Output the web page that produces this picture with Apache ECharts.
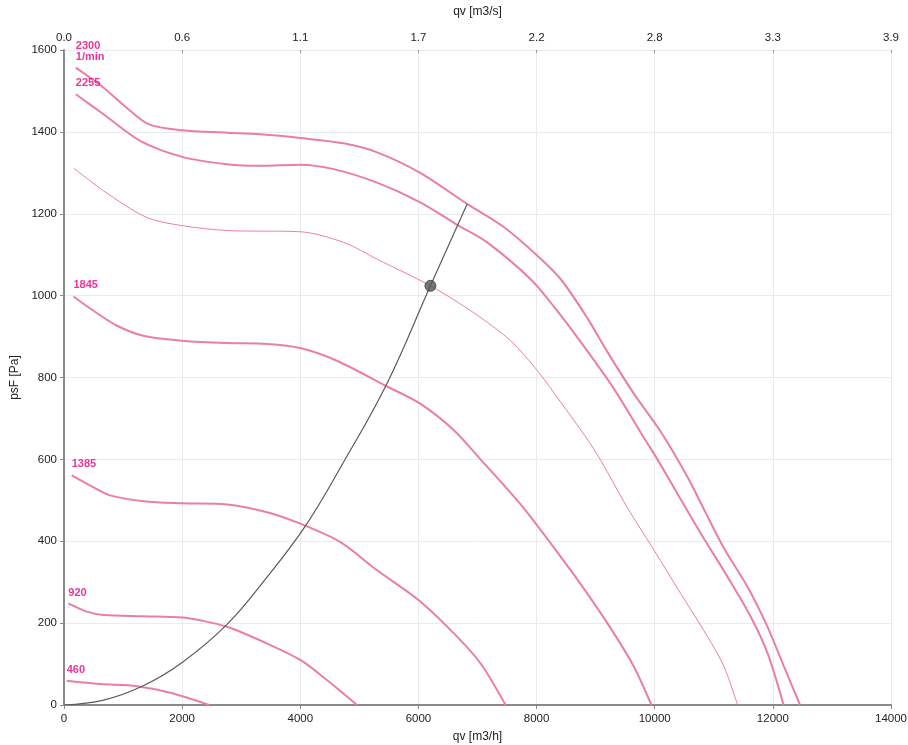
<!DOCTYPE html>
<html>
<head>
<meta charset="utf-8">
<script src="https://cdn.jsdelivr.net/npm/echarts@6/dist/echarts.min.js"></script>
<style>
html,body{margin:0;padding:0;background:#fff;}
#chart{width:908px;height:745px;}
</style>
</head>
<body>
<div id="chart"></div>
<script>
// ---- data (qv [m3/h], psF [Pa]) ----
var xTicks = [0, 2000, 4000, 6000, 8000, 10000, 12000, 14000];
var topTickLabels = ['0.0', '0.6', '1.1', '1.7', '2.2', '2.8', '3.3', '3.9'];
var yTicks = [0, 200, 400, 600, 800, 1000, 1200, 1400, 1600];

var curve2300 = [[200,1557],[670,1508],[1060,1459],[1430,1419],[2000,1404],[2760,1398],[3320,1394],[4000,1385],[4735,1372],[5300,1350],[6030,1300],[6825,1224],[7450,1167],[8010,1098],[8410,1040],[8860,945],[9200,862],[9650,760],[10100,668],[10555,557],[10840,476],[11180,381],[11570,289],[11910,191],[12190,93],[12460,0]];
var curve2255 = [[200,1492],[670,1443],[1290,1378],[2000,1339],[2760,1321],[3320,1317],[4000,1320],[4565,1309],[5300,1276],[6030,1228],[6656,1173],[7164,1130],[7900,1040],[8294,973],[8690,898],[9200,796],[9400,752],[9820,652],[10046,600],[10385,516],[10780,419],[11233,313],[11628,215],[11911,126],[12182,0]];
var curveWork = [[170,1311],[670,1256],[1400,1191],[2000,1171],[2760,1159],[4000,1156],[4735,1130],[5300,1089],[6203,1024],[6938,958],[7560,890],[8012,817],[8407,740],[8831,655],[9085,598],[9537,482],[9989,378],[10441,272],[10894,167],[11176,93],[11402,0]];
var curve1845 = [[160,998],[500,963],[890,927],[1340,902],[2000,890],[2760,884],[3440,882],[4000,872],[4620,841],[5470,778],[6030,736],[6600,671],[7050,600],[7730,490],[8410,362],[8860,272],[9310,175],[9650,93],[9945,0]];
var curve1385 = [[130,561],[384,541],[780,512],[1344,498],[2000,493],[2760,490],[3440,471],[4000,443],[4680,398],[5300,329],[6006,256],[6600,175],[7050,102],[7475,0]];
var curve920 = [[73,248],[384,228],[667,220],[1344,217],[2000,214],[2305,207],[2760,191],[3440,150],[4000,110],[4450,61],[4960,0]];
var curve460 = [[45,59],[610,51],[1230,46],[1800,30],[2460,0]];
var systemCurve = [[0,0],[670,12],[1340,47],[2000,104],[2760,197],[3440,313],[4085,437],[4700,585],[5470,786],[6203,1024],[6825,1224]];
var operatingPoint = [[6203,1024]];

var speedNames = ['2300\n1/min', '2255', '', '1845', '1385', '920', '460'];
var speedCurves = [curve2300, curve2255, curveWork, curve1845, curve1385, curve920, curve460];
var speedWidths = [2, 2, 1, 2, 2, 2, 2];

var pink = '#ea7fa4';
var labelPink = '#e6007e';
var fontFam = '"Liberation Sans", Arial, Helvetica, sans-serif';

var series = speedCurves.map(function (c, i) {
  return {
    type: 'line',
    data: c,
    smooth: 0.3,
    showSymbol: false,
    symbol: 'none',
    lineStyle: { color: pink, width: speedWidths[i] },
    silent: true,
    z: 3
  };
});

// speed labels placed at the start of each curve
var labelData = [];
speedCurves.forEach(function (c, i) {
  if (speedNames[i]) labelData.push({ value: c[0], name: speedNames[i] });
});
series.push({
  type: 'scatter',
  data: labelData,
  symbol: 'circle',
  symbolSize: 1,
  itemStyle: { color: 'rgba(0,0,0,0)' },
  label: {
    show: true,
    formatter: function (p) { return p.name; },
    position: 'top',
    align: 'left',
    distance: 5,
    offset: [0, 0],
    color: labelPink,
    fontSize: 11,
    fontWeight: 'bold',
    lineHeight: 11,
    fontFamily: fontFam
  },
  silent: true,
  z: 6
});

series.push({
  type: 'line',
  data: systemCurve,
  smooth: 0.4,
  symbol: 'none',
  lineStyle: { color: '#5a5a5a', width: 1.2 },
  silent: true,
  z: 4
});
series.push({
  type: 'scatter',
  data: operatingPoint,
  symbol: 'circle',
  symbolSize: 11,
  itemStyle: { color: '#555558', borderColor: '#3a3a3a', borderWidth: 1 },
  z: 5
});

function plain(v) { return String(v); }

var chart = echarts.init(document.getElementById('chart'), null, { renderer: 'canvas' });
chart.setOption({
  animation: false,
  backgroundColor: '#ffffff',
  textStyle: { fontFamily: fontFam },
  grid: { left: 64, right: 17, top: 50, bottom: 40, containLabel: false, outerBoundsMode: 'none' },
  xAxis: [
    {
      type: 'value', position: 'bottom',
      min: xTicks[0], max: xTicks[xTicks.length - 1], interval: xTicks[1] - xTicks[0],
      name: 'qv [m3/h]', nameLocation: 'middle', nameGap: 26,
      nameTextStyle: { color: '#222', fontSize: 12, fontFamily: fontFam },
      axisLine: { show: true, lineStyle: { color: '#8a8a8a', width: 2 } },
      axisTick: { show: true, length: 4, lineStyle: { color: '#8a8a8a' } },
      axisLabel: { color: '#222', fontSize: 11.5, margin: 8, fontFamily: fontFam, formatter: plain },
      splitLine: { show: true, lineStyle: { color: '#e8ecf1', width: 1 } }
    },
    {
      type: 'value', position: 'top',
      min: xTicks[0], max: xTicks[xTicks.length - 1], interval: xTicks[1] - xTicks[0],
      name: 'qv [m3/s]', nameLocation: 'middle', nameGap: 32,
      nameTextStyle: { color: '#222', fontSize: 12, fontFamily: fontFam },
      axisLine: { show: false },
      axisTick: { show: true, inside: true, length: 3, lineStyle: { color: '#999' } },
      axisLabel: {
        color: '#222', fontSize: 11.5, margin: 6, fontFamily: fontFam,
        formatter: function (v) { var i = xTicks.indexOf(v); return i >= 0 ? topTickLabels[i] : ''; }
      },
      splitLine: { show: false }
    }
  ],
  yAxis: {
    type: 'value',
    min: yTicks[0], max: yTicks[yTicks.length - 1], interval: yTicks[1] - yTicks[0],
    name: 'psF [Pa]', nameLocation: 'middle', nameGap: 28, nameRotate: 90,
    nameTextStyle: { color: '#222', fontSize: 12, fontFamily: fontFam },
    axisLine: { show: true, lineStyle: { color: '#8a8a8a', width: 2 } },
    axisTick: { show: true, length: 4, lineStyle: { color: '#8a8a8a' } },
    axisLabel: { color: '#222', fontSize: 11.5, margin: 7, fontFamily: fontFam, formatter: plain },
    splitLine: { show: true, lineStyle: { color: '#e8ecf1', width: 1 } }
  },
  series: series
});
</script>
</body>
</html>
